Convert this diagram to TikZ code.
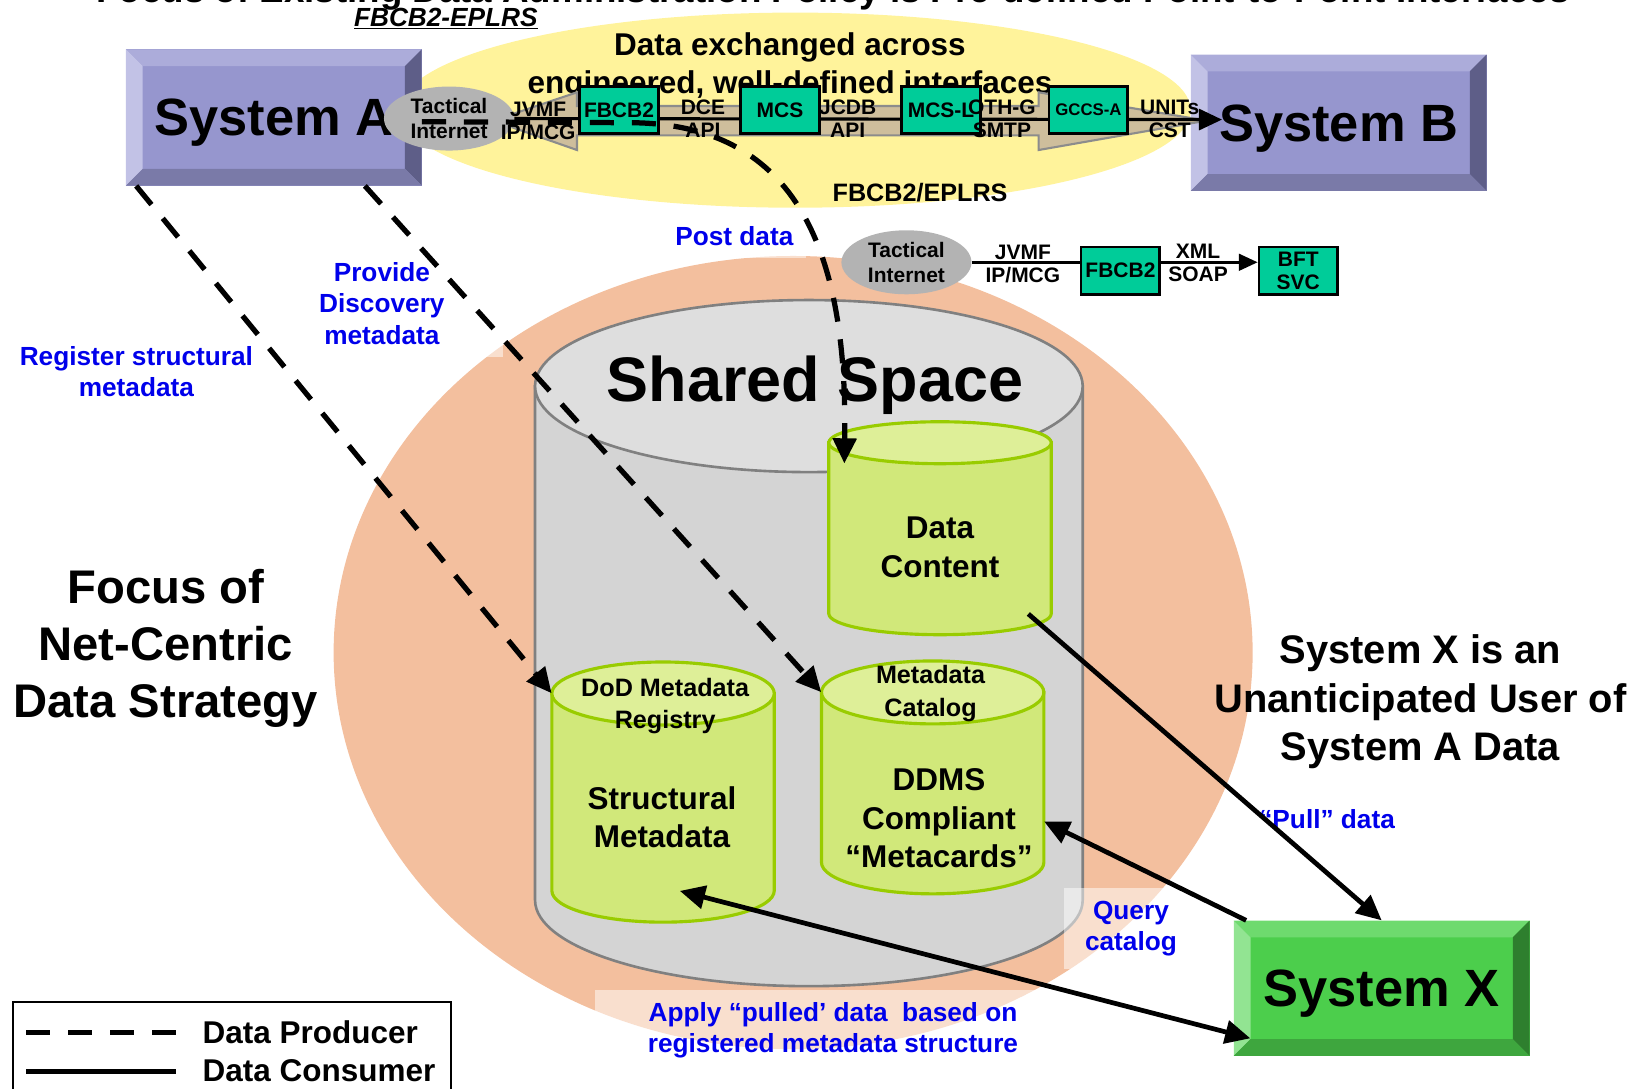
\documentclass[tikz,border=0pt]{standalone}
\usepackage{fontspec}
\setmainfont{Liberation Sans}
\usetikzlibrary{positioning,arrows.meta,shapes.geometric}

\definecolor{lavface}{RGB}{150,150,206}
\definecolor{lavtop}{RGB}{172,172,218}
\definecolor{lavleft}{RGB}{194,194,230}
\definecolor{lavright}{RGB}{94,94,136}
\definecolor{lavbottom}{RGB}{122,122,168}
\definecolor{grnface}{RGB}{76,206,76}
\definecolor{grntop}{RGB}{110,218,110}
\definecolor{grnleft}{RGB}{146,228,146}
\definecolor{grnright}{RGB}{46,127,46}
\definecolor{grnbottom}{RGB}{62,166,62}
\definecolor{ifteal}{RGB}{0,204,153}
\definecolor{tigray}{RGB}{179,179,179}
\definecolor{bandtan}{RGB}{206,190,156}
\definecolor{bandedge}{RGB}{140,140,140}
\definecolor{paleyellow}{RGB}{255,243,155}
\definecolor{salmon}{RGB}{243,191,158}
\definecolor{ssbody}{RGB}{212,212,212}
\definecolor{sstop}{RGB}{222,222,222}
\definecolor{ssedge}{RGB}{128,128,128}
\definecolor{dbbody}{RGB}{209,232,122}
\definecolor{dbtop}{RGB}{222,239,152}
\definecolor{dbedge}{RGB}{153,204,0}
\definecolor{noteblue}{RGB}{0,0,235}

\newcommand\fsz[2]{\fontsize{#1}{#2}\selectfont\bfseries}

\newcommand\dbcyl[7]{%
  \filldraw[#7body] ({#2-#5},#3) -- ({#2-#5},#4)
    arc[start angle=180, end angle=360, x radius=#5pt, y radius=#6pt] -- ({#2+#5},#3) -- cycle;
  \filldraw[#7end] (#2,#3) ellipse [x radius=#5pt, y radius=#6pt];
  \node[minimum width={2*#5pt}, minimum height={(#4-#3)*1pt}, inner sep=0pt] (#1) at (#2,{(#3+#4)/2}) {};
}

\tikzset{
  sysbox/.style={rectangle, inner sep=0pt, minimum width=282pt, minimum height=130pt, text depth=0pt,
    font=\fsz{50}{60}},
  bevelfill/.style n args={5}{fill=#1, path picture={
      \coordinate (bnw) at (path picture bounding box.north west);
      \coordinate (bne) at (path picture bounding box.north east);
      \coordinate (bse) at (path picture bounding box.south east);
      \coordinate (bsw) at (path picture bounding box.south west);
      \fill[#2] (bnw) -- (bne) -- ([shift={(-16,16)}]bne) -- ([shift={(16,16)}]bnw) -- cycle;
      \fill[#3] (bnw) -- ([shift={(16,16)}]bnw) -- ([shift={(16,-16)}]bsw) -- (bsw) -- cycle;
      \fill[#4] (bne) -- (bse) -- ([shift={(-16,-16)}]bse) -- ([shift={(-16,16)}]bne) -- cycle;
      \fill[#5] (bsw) -- (bse) -- ([shift={(-16,-16)}]bse) -- ([shift={(16,-16)}]bsw) -- cycle;
    }},
  ifbox/.style={rectangle, draw, line width=2.5pt, fill=ifteal, minimum width=75pt, minimum height=45pt,
    inner sep=0pt, align=center, font=\fsz{20}{22}},
  tinet/.style={ellipse, fill=tigray, minimum width=124pt, minimum height=61pt, inner sep=0pt,
    align=center, font=\fsz{20}{24}},
  iflabel/.style={align=center, inner sep=0pt, font=\fsz{20}{22}},
  dbtext/.style={align=center, inner sep=0pt, font=\fsz{30}{37}},
  dbhead/.style={align=center, inner sep=0pt, font=\fsz{24}{31}},
  note/.style={align=center, text=noteblue, font=\fsz{25}{30}, fill=white, fill opacity=0.5,
    text opacity=1, inner sep=12pt},
  bigtext/.style={align=center, inner sep=0pt},
  graybody/.style={fill=ssbody, draw=ssedge, line width=2.5pt},
  grayend/.style={fill=sstop, draw=ssedge, line width=2.5pt},
  greenbody/.style={fill=dbbody, draw=dbedge, line width=3pt},
  greenend/.style={fill=dbtop, draw=dbedge, line width=3pt},
  producer/.style={line width=5pt, dash pattern=on 23pt off 17pt},
  consumer/.style={line width=4.5pt},
}

\begin{document}
\begin{tikzpicture}[x=1pt, y=-1pt, node distance=76pt, >={Triangle[length=24pt,width=22pt]}]
  \useasboundingbox (0,0) rectangle (1568,1038);

  \fill[salmon] (756,622) ellipse [x radius=438pt, y radius=378pt];
  \fill[paleyellow] (758,105) ellipse [x radius=377pt, y radius=93pt];

  \node[font=\fsz{35}{40}, anchor=base, inner sep=0pt] (title) at (794,2)
    {Focus of Existing Data Administration Policy is Pre-defined Point-to-Point Interfaces};
  \node[font=\fsz{25}{30}\itshape, inner sep=0pt] (eplrs) at (425,18) {\underline{FBCB2-EPLRS}};
  \node[bigtext, font=\fsz{30}{36}] (exch) at (753,63) {Data exchanged across\\engineered, well-defined interfaces};

  \node[sysbox, bevelfill={lavface}{lavtop}{lavleft}{lavright}{lavbottom}] (sysA) at (261,112) {System A};
  \node[sysbox, bevelfill={lavface}{lavtop}{lavleft}{lavright}{lavbottom}] (sysB) at (1276,117) {System B};

  \filldraw[fill=bandtan, draw=bandedge, line width=2pt] (470,115) -- (550,88) -- (550,101) -- (990,101)
    -- (990,88) -- (1150,115) -- (990,143) -- (990,129) -- (550,129) -- (550,143) -- cycle;

  \node[tinet] (tiA) at (428,113) {Tactical\\Internet};
  \draw[line width=3pt, -{Triangle[length=22pt,width=20pt]}] (tiA.east) -- ([xshift=30pt,yshift=3pt]sysB.west);

  \node[ifbox] (fbcbA) at (590,105) {FBCB2};
  \node[ifbox] (mcs) [right = of fbcbA] {MCS};
  \node[ifbox] (mcsl) [right = of mcs] {MCS-L};
  \node[ifbox, font=\fsz{16}{18}] (gccs) [right = 63pt of mcsl] {GCCS-A};

  \node[iflabel] (jvmfA) at (513,115) {JVMF\\IP/MCG};
  \node[iflabel] (dce) at (670,113) {DCE\\API};
  \node[iflabel] (jcdb) at (808,113) {JCDB\\API};
  \node[iflabel] (othg) at (955,113) {OTH-G\\SMTP};
  \node[iflabel] (units) at (1115,113) {UNITs\\CST};

  \node[font=\fsz{24}{28}, inner sep=0pt] (eplrsB) at (877,184) {FBCB2/EPLRS};
  \node[tinet] (tiB) at (864,250) {Tactical\\Internet};
  \node[ifbox] (fbcbB) at (1068,258) {FBCB2};
  \node[ifbox] (bft) [right = 92pt of fbcbB] {BFT\\SVC};
  \draw[line width=2.5pt] (tiB.east) -- ([yshift=8pt]fbcbB.west);
  \draw[line width=2.5pt, -{Triangle[length=18pt,width=16pt]}] ([yshift=8pt]fbcbB.east) -- ([yshift=8pt]bft.west);
  \node[iflabel] (jvmfB) at (975,252) {JVMF\\IP/MCG};
  \node[iflabel] (xml) at (1142,251) {XML\\SOAP};

  \dbcyl{shared}{771}{368}{858}{261}{82}{gray}
  \dbcyl{dc}{896}{422}{585}{106}{20}{green}
  \dbcyl{dod}{632}{661}{849}{106}{30}{green}
  \dbcyl{mc}{889}{660}{822}{106}{30}{green}

  \node[bigtext, font=\fsz{60}{70}] (sstext) at (777,367) {Shared Space};
  \node[dbtext] (dctext) at (896,522) {Data\\Content};
  \node[dbhead] (dodhead) at (634,673) {DoD Metadata\\Registry};
  \node[dbtext] (dodtext) at (631,779) {Structural\\Metadata};
  \node[dbhead] (mchead) at (887,661) {Metadata\\Catalog};
  \node[dbtext] (mctext) at (895,780) {DDMS\\Compliant\\“Metacards”};

  \node[sysbox, minimum height=129pt, bevelfill={grnface}{grntop}{grnleft}{grnright}{grnbottom}] (sysX) at (1317,942) {System X};

  \node[bigtext, font=\fsz{45}{54}] (focus) at (158,618) {Focus of\\Net-Centric\\Data Strategy};
  \node[bigtext, font=\fsz{38}{46}] (unant) at (1354,669) {System X is an\\Unanticipated User of\\System A Data};

  \node[note] (regnote) at (130,354) {Register structural\\metadata};
  \node[note, inner xsep=56pt] (provnote) at (364,289) {Provide\\Discovery\\metadata};
  \node[note] (postnote) at (700,225) {Post data};
  \node[note] (pullnote) at (1265,781) {“Pull” data};
  \node[note, inner xsep=20pt] (querynote) at (1078,885) {Query\\catalog};
  \node[note, inner xsep=50pt] (applynote) at (794,982) {Apply “pulled’ data\ \ based on\\registered metadata structure};

  \coordinate (bend) at (605,117);
  \draw[producer, ->] ([yshift=-4pt]sysA.east) -- (bend) .. controls (760,120) and (808,240) .. ([shift={(15,20)}]dc.north west);
  \draw[producer, ->] ([xshift=10pt]sysA.south west) -- (dod.north west);
  \draw[producer, ->] ([xshift=228pt]sysA.south west) -- (mc.north west);

  \draw[consumer, ->] ([xshift=-22pt]dc.south east) -- (sysX.north);
  \draw[consumer, ->] ([xshift=12pt]sysX.north west) -- ([yshift=-42pt]mc.east);
  \draw[consumer, <->] ([xshift=16pt]dod.south) -- ([shift={(16pt,17pt)}]sysX.south west);

  \draw[line width=2pt] (12,955) rectangle (430,1052);
  \node[font=\fsz{30}{36}, anchor=west, inner sep=0pt] (prodtxt) at (193,984) {Data Producer};
  \node[font=\fsz{30}{36}, anchor=west, inner sep=0pt] (constxt) at (193,1021) {Data Consumer};
  \draw[producer] ([xshift=-168pt]prodtxt.west) -- ([xshift=-25pt]prodtxt.west);
  \draw[consumer] ([xshift=-168pt]constxt.west) -- ([xshift=-25pt]constxt.west);
\end{tikzpicture}
\end{document}
